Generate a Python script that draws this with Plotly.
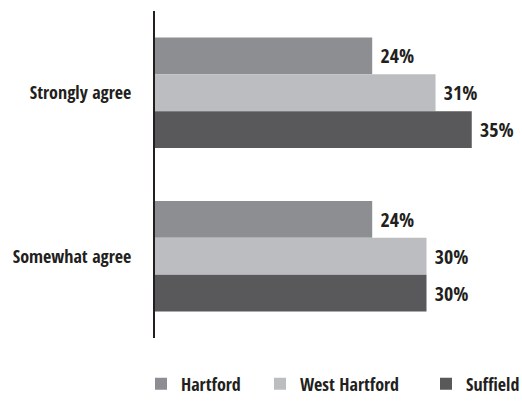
import plotly.graph_objects as go

categories = ["Strongly agree", "Somewhat agree"]
hartford = [24, 24]
west_hartford = [31, 30]
suffield = [35, 30]

series = [
    ("Hartford", hartford, "#8d8e91"),
    ("West Hartford", west_hartford, "#bcbdc0"),
    ("Suffield", suffield, "#59595c"),
]

FONT = "Open Sans Condensed, Roboto Condensed, sans-serif"
INK = "#231f20"
W, H = 522, 402
LABEL_SIZE = 18
VALUE_SIZE = 20

# legend entry positions (container pixels from left) for each series
legend_x = [161, 280, 446]

fig = go.Figure()
for i, (name, vals, color) in enumerate(series):
    legend_id = "legend" if i == 0 else f"legend{i + 1}"
    fig.add_trace(go.Bar(
        name=name,
        y=categories,
        x=vals,
        orientation="h",
        marker=dict(color=color, line=dict(width=0)),
        text=[f"\u00a0{v}%" for v in vals],
        textposition="outside",
        constraintext="none",
        textfont=dict(family=FONT, size=VALUE_SIZE, color=INK),
        cliponaxis=False,
        legend=legend_id,
    ))
    fig.update_layout({legend_id: dict(
        orientation="h",
        xref="container",
        yref="container",
        x=(legend_x[i] - 20) / W,
        xanchor="left",
        y=(H - 384) / H,
        yanchor="middle",
        font=dict(family=FONT, size=LABEL_SIZE, color=INK),
        bgcolor="rgba(0,0,0,0)",
        borderwidth=0,
        itemwidth=30,
    )})

fig.update_layout(
    width=W,
    height=H,
    margin=dict(l=155, r=5.4, t=10.5, b=63.5, autoexpand=False),
    paper_bgcolor="white",
    plot_bgcolor="white",
    barmode="group",
    bargap=0.323,
    bargroupgap=0,
    font=dict(family=FONT, size=LABEL_SIZE, color=INK),
    xaxis=dict(range=[0, 40], visible=False, fixedrange=True),
    yaxis=dict(
        autorange="reversed",
        showline=True,
        linecolor=INK,
        linewidth=2,
        ticks="",
        ticklabelstandoff=18,
        automargin=False,
        showgrid=False,
        zeroline=False,
        tickfont=dict(family=FONT, size=LABEL_SIZE, color=INK),
    ),
    showlegend=True,
)

fig.write_html("out.html")
